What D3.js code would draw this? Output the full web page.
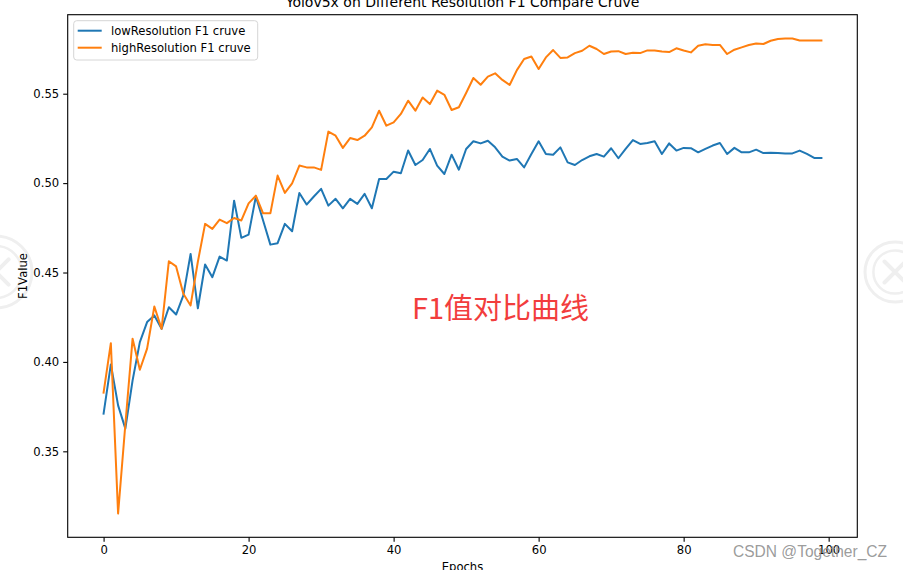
<!DOCTYPE html>
<html>
<head>
<meta charset="utf-8">
<script src="https://cdn.jsdelivr.net/npm/d3@7"></script>
<style>
  html, body { margin: 0; padding: 0; background: #fff; }
  svg { display: block; }
</style>
</head>
<body>
<svg id="chart" width="903" height="570"></svg>
<script>
// ---------- data ----------
const title = "Yolov5x on Different Resolution F1 Compare Cruve";
const xLabel = "Epochs";
const yLabel = "F1Value";
const seriesNames = ["lowResolution F1 cruve", "highResolution F1 cruve"];
const annotation = "F1值对比曲线";
const watermark = "CSDN @Together_CZ";

const lowResolution = [
  0.3711, 0.3986, 0.3757, 0.3627, 0.3897, 0.4111, 0.4223, 0.4260, 0.4185, 0.4306,
  0.4265, 0.4372, 0.4604, 0.4300, 0.4545, 0.4474, 0.4589, 0.4567, 0.4902, 0.4694,
  0.4712, 0.4925, 0.4791, 0.4656, 0.4664, 0.4772, 0.4731, 0.4945, 0.4880, 0.4925,
  0.4968, 0.4874, 0.4912, 0.4859, 0.4912, 0.4884, 0.4940, 0.4859, 0.5023, 0.5023,
  0.5064, 0.5055, 0.5182, 0.5101, 0.5129, 0.5191, 0.5098, 0.5051, 0.5159, 0.5075,
  0.5191, 0.5234, 0.5222, 0.5237, 0.5200, 0.5148, 0.5126, 0.5135, 0.5088, 0.5163,
  0.5234, 0.5163, 0.5159, 0.5200, 0.5116, 0.5101, 0.5129, 0.5150, 0.5163, 0.5148,
  0.5195, 0.5139, 0.5191, 0.5241, 0.5219, 0.5224, 0.5234, 0.5163, 0.5222, 0.5182,
  0.5197, 0.5195, 0.5172, 0.5191, 0.5210, 0.5224, 0.5163, 0.5197, 0.5172, 0.5172,
  0.5187, 0.5168, 0.5170, 0.5168, 0.5166, 0.5166, 0.5182, 0.5163, 0.5141, 0.5141
];
const highResolution = [
  0.3828, 0.4105, 0.3152, 0.3650, 0.4130, 0.3956, 0.4074, 0.4310, 0.4185, 0.4563,
  0.4534, 0.4381, 0.4316, 0.4560, 0.4772, 0.4744, 0.4796, 0.4776, 0.4805, 0.4791,
  0.4887, 0.4930, 0.4831, 0.4831, 0.5042, 0.4945, 0.4999, 0.5098, 0.5088, 0.5088,
  0.5074, 0.5288, 0.5265, 0.5197, 0.5252, 0.5241, 0.5265, 0.5312, 0.5405, 0.5321,
  0.5340, 0.5387, 0.5461, 0.5405, 0.5479, 0.5442, 0.5517, 0.5494, 0.5409, 0.5424,
  0.5504, 0.5588, 0.5550, 0.5596, 0.5614, 0.5577, 0.5549, 0.5632, 0.5694, 0.5708,
  0.5638, 0.5703, 0.5744, 0.5700, 0.5703, 0.5727, 0.5740, 0.5768, 0.5750, 0.5722,
  0.5736, 0.5738, 0.5722, 0.5729, 0.5727, 0.5742, 0.5742, 0.5736, 0.5733, 0.5754,
  0.5742, 0.5731, 0.5768, 0.5776, 0.5773, 0.5773, 0.5722, 0.5746, 0.5759, 0.5772,
  0.5781, 0.5778, 0.5796, 0.5806, 0.5809, 0.5809, 0.5798, 0.5798, 0.5798, 0.5798
];
const xTicks = [0, 20, 40, 60, 80, 100];
const yTicks = [0.35, 0.40, 0.45, 0.50, 0.55];
const colors = ["#1f77b4", "#ff7f0e"];

// ---------- layout ----------
const svg = d3.select("#chart");
const pLeft = 67.7, pRight = 857.3, pTop = 14.7, pBottom = 537.3;
const FONT = "'DejaVu Sans', sans-serif";
const FS = 11.6;

const epochs = lowResolution.map((_, i) => i);
const allVals = lowResolution.concat(highResolution);
const xMin = 0, xMax = epochs.length - 1;
const xm = (xMax - xMin) * 0.05;
const yMin = d3.min(allVals), yMax = d3.max(allVals);
const ym = (yMax - yMin) * 0.05;

const x = d3.scaleLinear().domain([xMin - xm, xMax + xm]).range([pLeft, pRight]);
const y = d3.scaleLinear().domain([yMin - ym, yMax + ym]).range([pBottom, pTop]);

// watermark circles (faint)
function wmCircle(cx, cy, r) {
  const g = svg.append("g").attr("stroke", "#efefef").attr("fill", "none");
  g.append("circle").attr("cx", cx).attr("cy", cy).attr("r", r).attr("stroke-width", 3);
  g.append("circle").attr("cx", cx).attr("cy", cy).attr("r", r * 0.72).attr("stroke-width", 2.5);
  g.append("path").attr("stroke-width", 4).attr("stroke-linecap", "round")
    .attr("d", `M${cx - r*0.35},${cy - r*0.35}L${cx + r*0.35},${cy + r*0.35}M${cx + r*0.35},${cy - r*0.35}L${cx - r*0.35},${cy + r*0.35}`);
}
wmCircle(-4, 272, 36);
wmCircle(895, 272, 30);

// lines
const line = d3.line().x((d, i) => x(i)).y(d => y(d));
[lowResolution, highResolution].forEach((s, k) => {
  svg.append("path")
    .datum(s)
    .attr("fill", "none")
    .attr("stroke", colors[k])
    .attr("stroke-width", 2)
    .attr("stroke-linejoin", "round")
    .attr("stroke-linecap", "square")
    .attr("d", line);
});

// axes
const xAxis = d3.axisBottom(x).tickValues(xTicks).tickFormat(d3.format("d")).tickSize(4.5).tickPadding(4);
const yAxis = d3.axisLeft(y).tickValues(yTicks).tickFormat(d3.format(".2f")).tickSize(4.5).tickPadding(4);

const gx = svg.append("g").attr("transform", `translate(0,${pBottom})`).call(xAxis);
const gy = svg.append("g").attr("transform", `translate(${pLeft},0)`).call(yAxis);
[gx, gy].forEach(g => {
  g.select(".domain").remove();
  g.selectAll(".tick line").attr("stroke", "#000").attr("stroke-width", 1.1);
  g.selectAll(".tick text").attr("fill", "#000").style("font-family", FONT).style("font-size", FS + "px");
});

// spines
svg.append("rect")
  .attr("x", pLeft).attr("y", pTop)
  .attr("width", pRight - pLeft).attr("height", pBottom - pTop)
  .attr("fill", "none").attr("stroke", "#000").attr("stroke-width", 1.1);

// title
svg.append("text")
  .attr("x", (pLeft + pRight) / 2).attr("y", 7)
  .attr("text-anchor", "middle")
  .style("font-family", FONT).style("font-size", "14px")
  .attr("fill", "#000")
  .text(title);

// x label
svg.append("text")
  .attr("x", (pLeft + pRight) / 2).attr("y", 571)
  .attr("text-anchor", "middle")
  .style("font-family", FONT).style("font-size", FS + "px")
  .attr("fill", "#000")
  .text(xLabel);

// y label
svg.append("text")
  .attr("transform", `translate(26.5,${(pTop + pBottom) / 2}) rotate(-90)`)
  .attr("text-anchor", "middle")
  .style("font-family", FONT).style("font-size", FS + "px")
  .attr("fill", "#000")
  .text(yLabel);

// legend
const lg = svg.append("g");
lg.append("rect")
  .attr("x", 73.7).attr("y", 20.7).attr("width", 184).attr("height", 39.3)
  .attr("rx", 3).attr("ry", 3)
  .attr("fill", "#fff").attr("fill-opacity", 0.8)
  .attr("stroke", "#d6d6d6").attr("stroke-width", 1);
seriesNames.forEach((name, k) => {
  const ly = 30.7 + k * 17;
  lg.append("line")
    .attr("x1", 77.7).attr("x2", 101.7).attr("y1", ly).attr("y2", ly)
    .attr("stroke", colors[k]).attr("stroke-width", 2);
  lg.append("text")
    .attr("x", 111).attr("y", ly + 4.3)
    .style("font-family", FONT).style("font-size", FS + "px")
    .attr("fill", "#000")
    .text(name);
});

// red annotation
svg.append("text")
  .attr("x", 412).attr("y", 319)
  .style("font-family", "'Noto Sans CJK SC', 'Noto Sans', sans-serif")
  .style("font-size", "29px")
  .attr("fill", "#f23d3d")
  .text(annotation);

// CSDN watermark
svg.append("text")
  .attr("x", 733).attr("y", 557)
  .attr("textLength", 154)
  .attr("lengthAdjust", "spacingAndGlyphs")
  .style("font-family", "'Liberation Sans', Arial, sans-serif")
  .style("font-size", "16px")
  .attr("fill", "#8f8f8f")
  .attr("fill-opacity", 0.9)
  .text(watermark);
</script>
</body>
</html>
